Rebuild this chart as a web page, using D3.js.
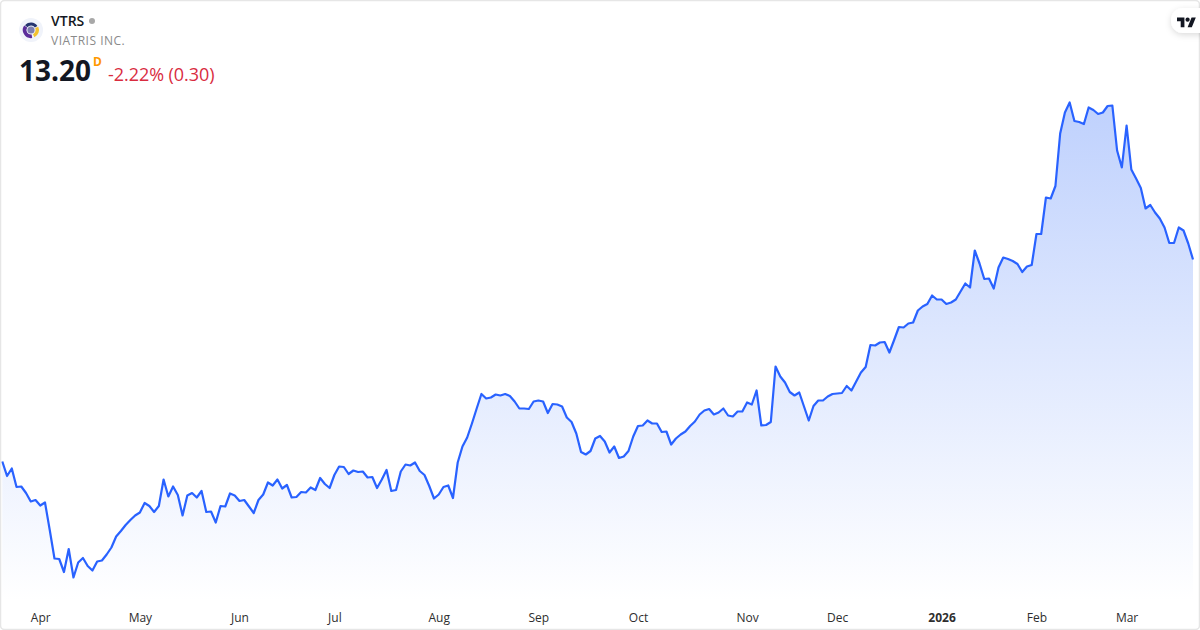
<!DOCTYPE html>
<html><head><meta charset="utf-8">
<script src="https://cdn.jsdelivr.net/npm/d3@7/dist/d3.min.js"></script>
<style>
html,body{margin:0;padding:0;background:#fff}
svg{display:block}
text{font-family:"Open Sans","Noto Sans",sans-serif}
</style></head><body>
<svg id="c" width="1200" height="630"></svg>
<script>
const ticker = "VTRS";
const company = "VIATRIS INC.";
const lastPrice = "13.20";
const change = "-2.22% (0.30)";
const tickIndex = [8,29,50,70,92,113,134,157,176,198,218,237];
const tickLabels = ["Apr","May","Jun","Jul","Aug","Sep","Oct","Nov","Dec","2026","Feb","Mar"];
const closes = [
9.16,8.87,9.02,8.65,8.66,8.53,8.36,8.39,8.28,8.34,7.79,7.22,7.21,6.95,7.41,6.84,7.14,7.23,7.07,6.98,
7.16,7.18,7.30,7.44,7.66,7.77,7.89,7.99,8.08,8.14,8.33,8.27,8.15,8.27,8.80,8.46,8.66,8.49,8.08,8.48,
8.53,8.44,8.57,8.15,8.16,7.94,8.27,8.26,8.52,8.48,8.37,8.39,8.26,8.13,8.39,8.50,8.74,8.68,8.80,8.62,
8.69,8.44,8.45,8.55,8.54,8.64,8.59,8.83,8.71,8.63,8.89,9.06,9.05,8.91,8.98,8.95,8.96,8.84,8.85,8.63,
8.80,8.99,8.57,8.59,8.96,9.10,9.08,9.14,8.97,8.89,8.67,8.42,8.50,8.65,8.68,8.43,9.14,9.46,9.64,9.92,
10.22,10.51,10.42,10.44,10.50,10.48,10.51,10.47,10.36,10.22,10.22,10.21,10.36,10.38,10.36,10.13,10.31,10.30,10.26,10.04,
9.95,9.72,9.35,9.30,9.37,9.62,9.67,9.56,9.34,9.46,9.23,9.26,9.37,9.66,9.87,9.88,9.98,9.92,9.92,9.75,
9.76,9.50,9.62,9.70,9.76,9.87,9.96,10.10,10.18,10.21,10.10,10.14,10.22,10.08,10.06,10.16,10.16,10.34,10.30,10.58,
9.88,9.89,9.95,11.06,10.86,10.74,10.55,10.48,10.54,10.26,9.98,10.27,10.38,10.38,10.46,10.51,10.52,10.53,10.67,10.58,
10.76,10.94,11.05,11.49,11.48,11.54,11.55,11.34,11.59,11.85,11.84,11.92,11.94,12.18,12.26,12.31,12.48,12.40,12.40,12.31,
12.34,12.40,12.56,12.72,12.64,13.38,13.12,12.81,12.82,12.62,13.04,13.24,13.21,13.17,13.11,12.95,13.06,13.09,13.71,13.71,
14.44,14.42,14.67,15.72,16.14,16.34,15.97,15.95,15.91,16.24,16.19,16.11,16.14,16.27,16.28,15.38,15.04,15.88,15.00,14.82,
14.63,14.22,14.29,14.14,14.02,13.84,13.53,13.53,13.84,13.78,13.52,13.20];

const svg = d3.select("#c");
const x = d3.scaleLinear().domain([0, closes.length - 1]).range([2.3, 1193]);
const y = d3.scaleLinear().domain([6, 17]).range([619.5, 69.5]);

const defs = svg.append("defs");
const g = defs.append("linearGradient").attr("id","fade").attr("gradientUnits","userSpaceOnUse")
  .attr("x1",0).attr("x2",0).attr("y1",y(d3.max(closes))).attr("y2",600);
g.append("stop").attr("offset",0).attr("stop-color","#bfd1fd");
g.append("stop").attr("offset",1).attr("stop-color","#ffffff");
const sh = defs.append("filter").attr("id","sh").attr("x","-50%").attr("y","-50%").attr("width","200%").attr("height","200%");
sh.append("feDropShadow").attr("dx",0).attr("dy",2).attr("stdDeviation",3).attr("flood-color","#000").attr("flood-opacity",0.14);

svg.append("path").datum(closes)
  .attr("fill","url(#fade)")
  .attr("d", d3.area().x((d,i)=>x(i)).y0(600).y1(d=>y(d)));
svg.append("path").datum(closes)
  .attr("fill","none").attr("stroke","#2962ff").attr("stroke-width",2.2).attr("stroke-linejoin","round")
  .attr("d", d3.line().x((d,i)=>x(i)).y(d=>y(d)));

const axis = d3.axisBottom(x).tickValues(tickIndex).tickSize(0).tickPadding(0)
  .tickFormat((d,i)=>tickLabels[i]);
const ax = svg.append("g").attr("transform","translate(0,613)").call(axis);
ax.select(".domain").remove();
ax.selectAll("text").attr("font-size",12).attr("fill","#2e2e2e").attr("dy","0.71em")
  .attr("font-weight",(d,i)=>tickLabels[i]==="2026"?700:400)
  .style("font-family",'"Open Sans","Noto Sans",sans-serif');

/* card frame */
svg.append("rect").attr("x",0.5).attr("y",0.5).attr("width",1199).attr("height",629)
  .attr("rx",4).attr("fill","none").attr("stroke","#e6e6e6").attr("stroke-width",1.5);

/* header */
const lg = svg.append("g").attr("transform","translate(31,30)");
lg.append("circle").attr("r",12).attr("fill","#f0f3fa");
lg.append("circle").attr("r",3.6).attr("fill","#7d7fb0");
const arc = d3.arc();
[[-0.9,1.0,4.6,7.6,"#26356f"],[1.15,2.7,4.6,8,"#f2c230"],[3.0,5.3,4.6,8.2,"#5b2d9a"]].forEach(a=>{
  lg.append("path").attr("fill",a[4]).attr("d",arc({innerRadius:a[2],outerRadius:a[3],startAngle:a[0],endAngle:a[1]}));
});
svg.append("text").attr("x",51).attr("y",26).attr("font-size",14).attr("font-weight",600).attr("fill","#131722").text(ticker);
svg.append("circle").attr("cx",92).attr("cy",21).attr("r",3).attr("fill","#a8a8a8");
svg.append("text").attr("x",51).attr("y",45).attr("font-size",12).attr("fill","#8a8a8a").attr("letter-spacing",0.5).text(company);
svg.append("text").attr("x",19).attr("y",81).attr("font-size",28).attr("font-weight",700).attr("fill","#131722").text(lastPrice);
svg.append("text").attr("x",93).attr("y",66).attr("font-size",12).attr("font-weight",700).attr("fill","#ff9800").text("D");
svg.append("text").attr("x",108).attr("y",81).attr("font-size",18).attr("fill","#d92c3f").attr("letter-spacing",-0.05).text(change);

/* TradingView badge */
svg.append("rect").attr("x",1171).attr("y",8).attr("width",50).attr("height",25).attr("rx",12).attr("fill","#fff").attr("filter","url(#sh)");
svg.append("path").attr("transform","translate(1177,15.5) scale(0.53)").attr("fill","#131722")
  .attr("d","M14 22H7V11H0V4h14v18zM28 22h-8l7.5-18h8L28 22z");
svg.append("circle").attr("cx",1177+20*0.53).attr("cy",15.5+8*0.53).attr("r",4*0.53).attr("fill","#131722");
</script></body></html>
